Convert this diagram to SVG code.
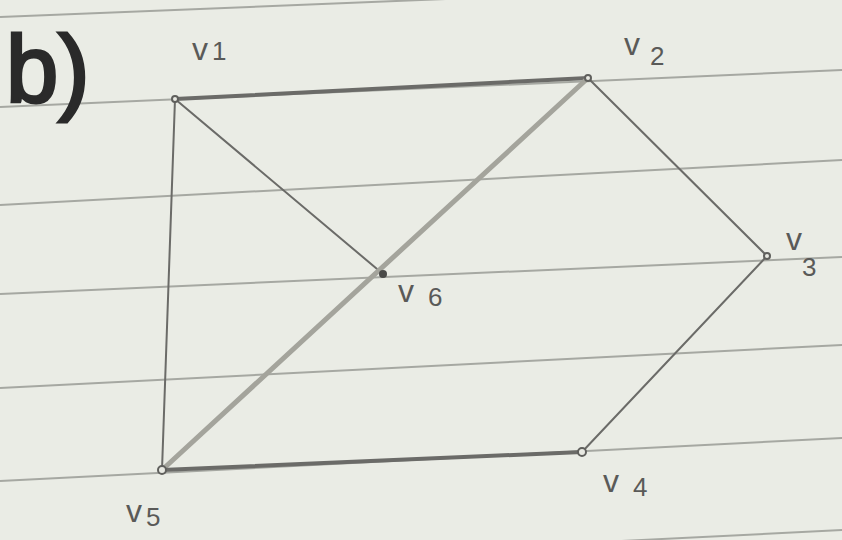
<svg xmlns="http://www.w3.org/2000/svg" width="842" height="540" viewBox="0 0 842 540">
<style>
.rule{stroke:#a6a8a2;stroke-width:2;fill:none}
.e{stroke:#6b6b68;stroke-width:2;fill:none;stroke-linecap:round}
.thick{stroke-width:4}
.light{stroke:#a4a49c;stroke-width:5}
.lbl{font-family:"Liberation Sans",Arial,sans-serif;font-size:32px;fill:#5a5a58}
.sub{font-size:26px}
.dot{fill:#e8e9e2;stroke:#5f5f5c;stroke-width:2}
</style>
<rect width="842" height="540" fill="#eaece5"/>
<g id="paper">
<line class="rule" x1="0" y1="17" x2="842" y2="-17"/>
<line class="rule" x1="0" y1="107" x2="842" y2="70"/>
<line class="rule" x1="0" y1="205" x2="842" y2="160"/>
<line class="rule" x1="0" y1="294" x2="842" y2="257"/>
<line class="rule" x1="0" y1="388" x2="842" y2="345"/>
<line class="rule" x1="0" y1="481" x2="842" y2="438"/>
<line class="rule" x1="0" y1="572" x2="842" y2="530"/>
</g>
<text x="6" y="102" font-family="Liberation Sans,Arial,sans-serif" font-size="94" fill="#2a2a2a" stroke="#2a2a2a" stroke-width="3">b)</text>
<g id="connectors">
<line class="e thick" x1="175" y1="99" x2="588" y2="78"/>
<line class="e" x1="175" y1="99" x2="383" y2="274"/>
<line class="e" x1="175" y1="99" x2="162" y2="470"/>
<line class="e light" x1="588" y1="78" x2="162" y2="470"/>
<line class="e" x1="588" y1="78" x2="767" y2="256"/>
<line class="e" x1="767" y1="256" x2="582" y2="452"/>
<line class="e thick" x1="162" y1="470" x2="582" y2="452"/>
</g>
<g id="v1"><circle class="dot" cx="175" cy="99" r="3"/><text class="lbl" x="192" y="60">v<tspan class="sub" dx="4">1</tspan></text></g>
<g id="v2"><circle class="dot" cx="588" cy="78" r="3"/><text class="lbl" x="624" y="55">v<tspan class="sub" dx="10" dy="10">2</tspan></text></g>
<g id="v3"><circle class="dot" cx="767" cy="256" r="3"/><text class="lbl" x="786" y="250">v<tspan class="sub" dx="0" dy="26">3</tspan></text></g>
<g id="v4"><circle class="dot" cx="582" cy="452" r="4"/><text class="lbl" x="603" y="492">v<tspan class="sub" dx="14" dy="4">4</tspan></text></g>
<g id="v5"><circle class="dot" cx="162" cy="470" r="4"/><text class="lbl" x="126" y="522">v<tspan class="sub" dx="4" dy="4">5</tspan></text></g>
<g id="v6"><circle cx="383" cy="274" r="4" fill="#4a4a48"/><text class="lbl" x="398" y="302">v<tspan class="sub" dx="14" dy="4">6</tspan></text></g>
</svg>
